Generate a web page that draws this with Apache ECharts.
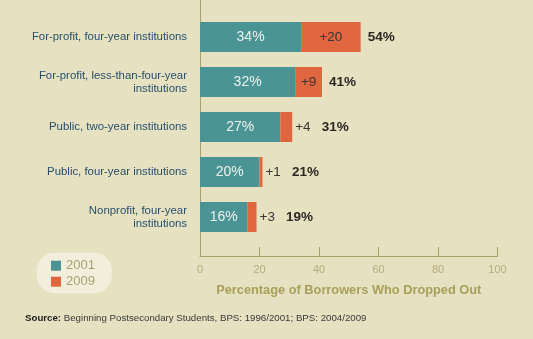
<!DOCTYPE html>
<html>
<head>
<meta charset="utf-8">
<script src="https://cdn.jsdelivr.net/npm/echarts@6/dist/echarts.min.js"></script>
<style>
  html, body { margin: 0; padding: 0; background: #e6e1c0; }
  #chart { width: 533px; height: 339px; }
</style>
</head>
<body>
<div id="chart"></div>
<script>
// Institution types, top to bottom
const categories = [
  'For-profit, four-year institutions',
  'For-profit, less-than-four-year\ninstitutions',
  'Public, two-year institutions',
  'Public, four-year institutions',
  'Nonprofit, four-year\ninstitutions'
];
// Share of borrowers who dropped out (%)
const rate2001 = [34, 32, 27, 20, 16];
// Increase from 2001 to 2009 (percentage points)
const increase2009 = [20, 9, 4, 1, 3];
const xTicks = [0, 20, 40, 60, 80, 100];

const totals2009 = rate2001.map((v, i) => v + increase2009[i]);

// category axis runs bottom-up, so reverse for a top-down reading order
const cats = categories.slice().reverse();
const base = rate2001.slice().reverse();
const inc = increase2009.slice().reverse();
const tot = totals2009.slice().reverse();

const TEAL = '#4a9495';
const ORANGE = '#e0663f';
const OLIVE = '#aaa162';

const narrow = v => v < 5;

const chart = echarts.init(document.getElementById('chart'), null, { renderer: 'canvas' });
chart.setOption({
  backgroundColor: '#e6e1c0',
  animation: false,
  textStyle: { fontFamily: 'Liberation Sans, Arial, sans-serif' },
  grid: [
    { left: 200, right: 35.5, top: 14.5, height: 225, containLabel: false },
    { left: 200, right: 35.5, top: 0, height: 256, containLabel: false }
  ],
  legend: {
    data: ['2001', '2009'],
    orient: 'vertical',
    left: 36.7,
    top: 252.7,
    padding: [6.5, 17, 5, 14.3],
    itemWidth: 10,
    itemHeight: 10,
    itemGap: 3,
    icon: 'rect',
    backgroundColor: '#f1eedb',
    borderRadius: 18,
    textStyle: { color: '#a9a271', fontSize: 13, lineHeight: 13, padding: [0, 0, 0, 0] }
  },
  xAxis: [
    {
      type: 'value',
      gridIndex: 0,
      min: 0,
      max: 100,
      interval: 20,
      offset: 16.5,
      position: 'bottom',
      splitLine: { show: false },
      axisLine: { show: true, lineStyle: { color: OLIVE, width: 1 } },
      axisTick: { show: true, inside: true, length: 9, lineStyle: { color: OLIVE } },
      axisLabel: {
        color: '#b5ad7e', fontSize: 11, margin: 8.5,
        formatter: v => xTicks.includes(v) ? String(v) : ''
      },
      name: 'Percentage of Borrowers Who Dropped Out',
      nameLocation: 'middle',
      nameGap: 27.5,
      nameTextStyle: { color: '#a89f5c', fontSize: 12.8, fontWeight: 'bold' }
    },
    { type: 'value', gridIndex: 1, show: false, min: 0, max: 100 }
  ],
  yAxis: [
    {
      type: 'category',
      gridIndex: 0,
      data: cats,
      axisLine: { show: false },
      axisTick: { show: false },
      axisLabel: {
        color: '#27506d', fontSize: 11.4, lineHeight: 13, margin: 13, align: 'right'
      }
    },
    {
      type: 'value',
      gridIndex: 1,
      min: 0,
      max: 1,
      axisLine: { show: true, lineStyle: { color: OLIVE, width: 1 } },
      axisTick: { show: false },
      axisLabel: { show: false },
      splitLine: { show: false }
    }
  ],
  series: [
    {
      name: '2001',
      type: 'bar',
      stack: 'rate',
      barWidth: 30,
      itemStyle: { color: TEAL },
      label: {
        show: true, position: 'inside', formatter: '{c}%',
        color: '#eef2ec', fontSize: 14
      },
      data: base
    },
    {
      name: '2009',
      type: 'bar',
      stack: 'rate',
      barWidth: 30,
      itemStyle: { color: ORANGE },
      label: {
        show: true, position: 'inside', formatter: '+{c}',
        color: '#3a3733', fontSize: 13.5
      },
      data: inc.map(v => narrow(v)
        ? { value: v, label: { position: 'right', distance: 3 } }
        : { value: v })
    },
    {
      name: 'total',
      type: 'bar',
      barWidth: 30,
      barGap: '-100%',
      silent: true,
      itemStyle: { color: 'rgba(0,0,0,0)' },
      label: {
        show: true, position: 'right', formatter: '{c}%',
        color: '#2b2824', fontSize: 13.5, fontWeight: 'bold'
      },
      data: tot.map((v, i) => ({
        value: v,
        label: { distance: narrow(inc[i]) ? 29.5 : 7 }
      }))
    }
  ],
  graphic: [
    {
      type: 'text',
      left: 25,
      top: 313,
      style: {
        text: '{b|Source:} Beginning Postsecondary Students, BPS: 1996/2001; BPS: 2004/2009',
        fontSize: 9.7,
        fill: '#3a3a3a',
        fontFamily: 'Liberation Sans, Arial, sans-serif',
        rich: {
          b: { fontWeight: 'bold', fontSize: 9.7, fill: '#222' }
        }
      }
    }
  ]
});
</script>
</body>
</html>
